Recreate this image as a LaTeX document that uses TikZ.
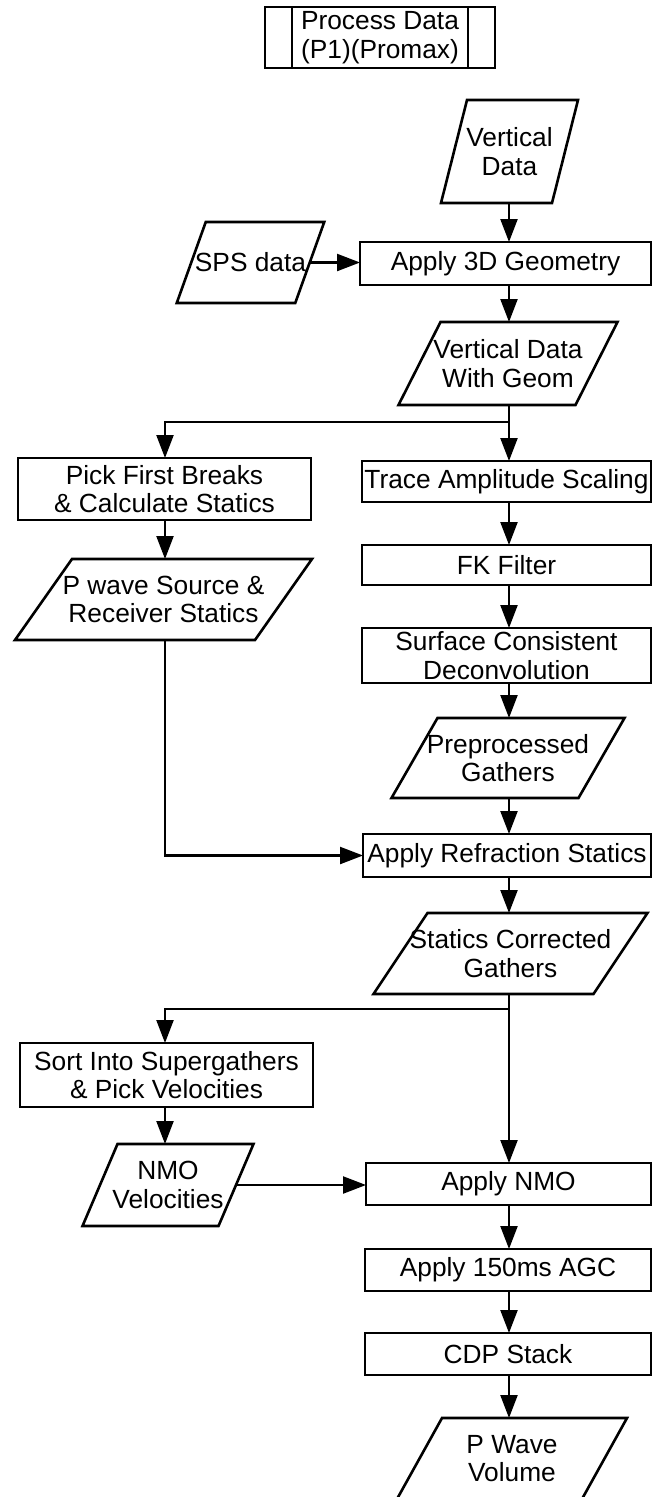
\documentclass[tikz,border=0pt]{standalone}
\usepackage{fontspec}
\setmainfont{Liberation Sans}
\usetikzlibrary{arrows.meta,calc}

% Input/output (parallelogram) box: name, x, y, top width, height, slant, text
\newcommand\iobox[7]{%
  \node[iotext, minimum width=#4pt, minimum height=#5pt] (#1) at (#2,#3) {#7};
  \draw[boxline] ($(#1.south west)+(-#6/2,0)$) -- ($(#1.south east)+(-#6/2,0)$)
    -- ($(#1.north east)+(#6/2,0)$) -- ($(#1.north west)+(#6/2,0)$) -- cycle;
}

\begin{document}
\begin{tikzpicture}[x=1pt,y=-1pt,
  every node/.style={font=\fontsize{26.3}{28.5}\selectfont, align=center, inner sep=0pt, outer sep=0pt},
  boxline/.style={line width=2.6pt, line join=miter},
  procbox/.style={draw, boxline, rectangle},
  iotext/.style={rectangle},
  conn/.style={line width=2.3pt},
  arr/.style={conn, -{Triangle[length=23pt,width=17pt]}}]

\fill[white] (0,0) rectangle (653,1497);
\useasboundingbox (0,0) rectangle (653,1497);
\clip (0,0) rectangle (653,1497);

% column guides for the connectors
\coordinate (colR) at (509,0);
\coordinate (colL) at (165,0);

% predefined-process title block
\node[procbox, line width=2.3pt, minimum width=230pt, minimum height=61pt] (title) at (380,37.5) {Process Data\\(P1)(Promax)};
\draw[line width=2.3pt] ([xshift=27pt]title.north west) -- ([xshift=27pt]title.south west);
\draw[line width=2.3pt] ([xshift=-27pt]title.north east) -- ([xshift=-27pt]title.south east);

% inputs and geometry
\iobox{vdata}{509.5}{151.5}{111}{103}{26}{Vertical\\Data}
\iobox{sps}{250.5}{262.5}{118.5}{81}{29}{SPS data}
\node[procbox, minimum width=291pt, minimum height=43pt] (geom) at (505.5,263.5) {Apply 3D Geometry};
\iobox{vgeom}{508}{363.5}{177}{83}{42}{Vertical Data\\With Geom}

% statics branch (left)
\node[procbox, minimum width=293pt, minimum height=62pt] (pick) at (164.5,489) {Pick First Breaks\\\& Calculate Statics};
\iobox{pwave}{163.5}{599.5}{240}{81}{57}{P wave Source \&\\Receiver Statics}

% preprocessing (right)
\node[procbox, minimum width=289pt, minimum height=41pt] (trace) at (506.5,481.5) {Trace Amplitude Scaling};
\node[procbox, minimum width=289pt, minimum height=40pt] (fk) at (506.5,565) {FK Filter};
\node[procbox, minimum width=289pt, minimum height=55pt] (decon) at (506.5,655.5) {Surface Consistent\\Deconvolution};
\iobox{prep}{508}{758}{187}{80}{46}{Preprocessed\\Gathers}
\node[procbox, minimum width=288pt, minimum height=43pt] (refr) at (507,855.5) {Apply Refraction Statics};
\iobox{statc}{510.5}{953.5}{220}{81}{54}{Statics Corrected\\Gathers}

% velocity analysis (left)
\node[procbox, minimum width=293pt, minimum height=64pt] (sort) at (166.5,1075) {Sort Into Supergathers\\\& Pick Velocities};
\iobox{nmov}{168}{1185}{136}{82}{35}{NMO\\Velocities}

% stacking (right)
\node[procbox, minimum width=285pt, minimum height=42pt] (nmo) at (508.5,1184) {Apply NMO};
\node[procbox, minimum width=286pt, minimum height=42pt] (agc) at (508,1270) {Apply 150ms AGC};
\node[procbox, minimum width=286pt, minimum height=42pt] (cdp) at (508,1354) {CDP Stack};
\iobox{pvol}{512}{1458.5}{185}{81}{45}{P Wave\\Volume}

% connectors
\draw[arr] (vdata.south -| colR) -- (geom.north -| colR);
\draw[arr] (sps.east) -- (sps.east -| geom.west);
\draw[arr] (geom.south -| colR) -- (vgeom.north -| colR);

\coordinate (j1) at (509,422);
\draw[conn] (vgeom.south -| colR) -- (j1);
\draw[arr] (j1) -- (j1 -| colL) -- (pick.north -| colL);
\draw[arr] (j1) -- (trace.north -| colR);

\draw[arr] (pick.south -| colL) -- (pwave.north -| colL);
\draw[arr] (trace.south -| colR) -- (fk.north -| colR);
\draw[arr] (fk.south -| colR) -- (decon.north -| colR);
\draw[arr] (decon.south -| colR) -- (prep.north -| colR);
\draw[arr] (prep.south -| colR) -- (refr.north -| colR);
\draw[arr] (pwave.south -| colL) -- (colL |- refr.west) -- (refr.west);
\draw[arr] (refr.south -| colR) -- (statc.north -| colR);

\coordinate (j2) at (509,1009);
\draw[conn] (statc.south -| colR) -- (j2);
\draw[arr] (j2) -- (j2 -| colL) -- (sort.north -| colL);
\draw[arr] (j2) -- (nmo.north -| colR);

\draw[arr] (sort.south -| colL) -- (nmov.north -| colL);
\draw[arr] (nmov.east) -- (nmov.east -| nmo.west);
\draw[arr] (nmo.south -| colR) -- (agc.north -| colR);
\draw[arr] (agc.south -| colR) -- (cdp.north -| colR);
\draw[arr] (cdp.south -| colR) -- (pvol.north -| colR);
\end{tikzpicture}
\end{document}
